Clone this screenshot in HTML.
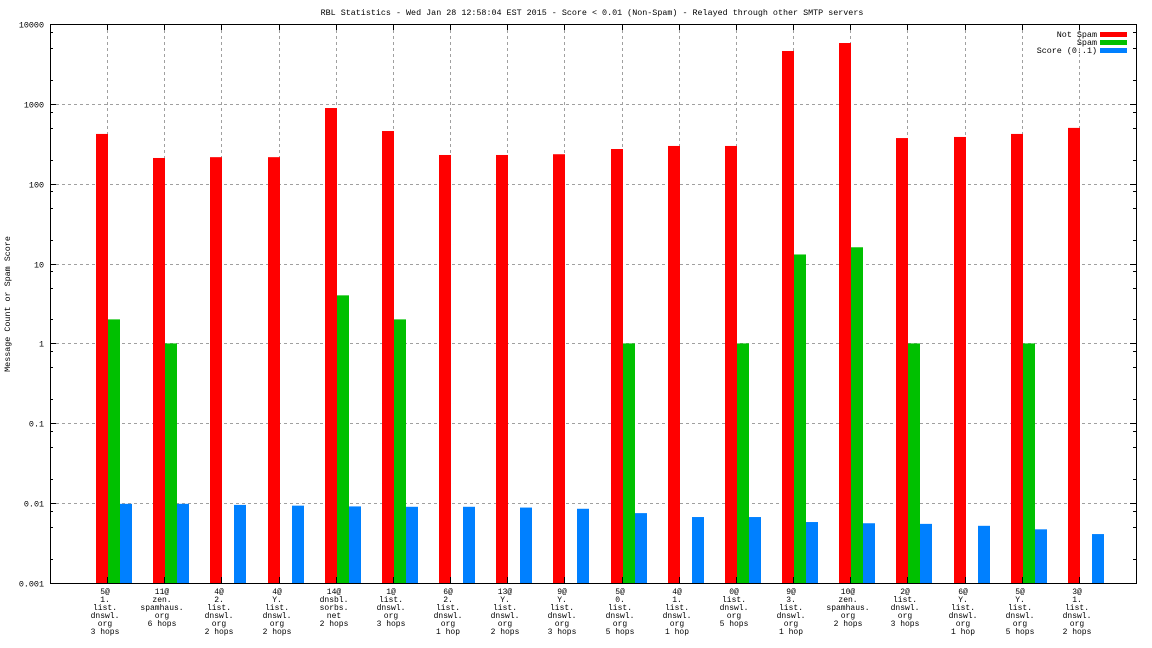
<!DOCTYPE html>
<html><head><meta charset="utf-8"><style>
html,body{margin:0;padding:0;background:#fff;}
svg{display:block;font-family:"Liberation Mono","DejaVu Sans Mono",monospace;}
</style></head><body>
<svg id="chart" width="1152" height="648" viewBox="0 0 1152 648" xmlns="http://www.w3.org/2000/svg">
<text x="592" y="15" font-size="8.4" text-anchor="middle">RBL Statistics - Wed Jan 28 12:58:04 EST 2015 - Score &lt; 0.01 (Non-Spam) - Relayed through other SMTP servers</text>
<text transform="translate(10,304) rotate(-90)" font-size="8.4" text-anchor="middle">Message Count or Spam Score</text>
<g id="grid"></g><g id="bars"></g><g id="axes"></g><g id="labels"></g>
<g>
<text x="1097" y="37" font-size="8.4" text-anchor="end">Not Spam</text>
<rect x="1100" y="32" width="27" height="5" fill="#ff0000"/>
<text x="1097" y="45" font-size="8.4" text-anchor="end">Spam</text>
<rect x="1100" y="40" width="27" height="5" fill="#00c000"/>
<text x="1097" y="53" font-size="8.4" text-anchor="end">Score (0..1)</text>
<rect x="1100" y="48" width="27" height="5" fill="#0080ff"/>
</g>
</svg>
<script>
const categories = [
 ["5@","1.","list.","dnswl.","org","3 hops"],
 ["11@","zen.","spamhaus.","org","6 hops"],
 ["4@","2.","list.","dnswl.","org","2 hops"],
 ["4@","Y.","list.","dnswl.","org","2 hops"],
 ["14@","dnsbl.","sorbs.","net","2 hops"],
 ["1@","list.","dnswl.","org","3 hops"],
 ["6@","2.","list.","dnswl.","org","1 hop"],
 ["13@","Y.","list.","dnswl.","org","2 hops"],
 ["9@","Y.","list.","dnswl.","org","3 hops"],
 ["5@","0.","list.","dnswl.","org","5 hops"],
 ["4@","1.","list.","dnswl.","org","1 hop"],
 ["0@","list.","dnswl.","org","5 hops"],
 ["9@","3.","list.","dnswl.","org","1 hop"],
 ["10@","zen.","spamhaus.","org","2 hops"],
 ["2@","list.","dnswl.","org","3 hops"],
 ["6@","Y.","list.","dnswl.","org","1 hop"],
 ["5@","Y.","list.","dnswl.","org","5 hops"],
 ["3@","1.","list.","dnswl.","org","2 hops"]
];
const notSpam = [420,210,215,215,887,457,229,229,234,272,297,297,4590,5780,373,385,420,500];
const spam = [2,1,0,0,4,2,0,0,0,1,0,1,13,16,1,0,1,0];
const score = [0.0098,0.0098,0.0095,0.0093,0.0091,0.009,0.009,0.0088,0.0085,0.0075,0.0067,0.0067,0.0058,0.0056,0.0055,0.0052,0.0047,0.0041];
const yTicks = [10000,1000,100,10,1,0.1,0.01,0.001];
const yTickLabels = ["10000","1000","100","10","1","0.1","0.01","0.001"];

const NS="http://www.w3.org/2000/svg";
const L=50,R=1136,T=24,B=583;
const step=(R-L)/(categories.length+1);
const bw=12;
function y(v){return T+(4-Math.log10(v))*(B-T)/7;}
function x(i){return L+step*(i+1);}
function mk(parent,tag,attrs){const e=document.createElementNS(NS,tag);for(const k in attrs)e.setAttribute(k,attrs[k]);document.getElementById(parent).appendChild(e);return e;}

yTicks.forEach((v,i)=>{
 const yy=Math.round(y(v))+0.5;
 if(i>0&&i<yTicks.length-1){const g=mk('grid','line',{x1:L,x2:R,y1:yy,y2:yy,stroke:'#a0a0a0','stroke-dasharray':'3,3'});
 
 }
 const t=mk('labels','text',{x:44,y:yy+3,'font-size':8.4,'text-anchor':'end'});t.textContent=yTickLabels[i];
 
 
 mk('axes','line',{x1:L,x2:L+6,y1:yy,y2:yy,stroke:'#000'});
 mk('axes','line',{x1:R-6,x2:R,y1:yy,y2:yy,stroke:'#000'});
 if(i<yTicks.length-1){[2,5,8].forEach(m=>{const my=Math.round(y(v/10*m))+0.5;
  mk('axes','line',{x1:L,x2:L+3,y1:my,y2:my,stroke:'#000'});
  mk('axes','line',{x1:R-3,x2:R,y1:my,y2:my,stroke:'#000'});});}
});
categories.forEach((c,i)=>{
 const cx=Math.round(x(i))+0.5;
 const g=mk('grid','line',{x1:cx,x2:cx,y1:T,y2:B,stroke:'#a0a0a0','stroke-dasharray':'3,3'});
 
 
 mk('axes','line',{x1:cx,x2:cx,y1:T,y2:T+6,stroke:'#000'});
 mk('axes','line',{x1:cx,x2:cx,y1:B-6,y2:B,stroke:'#000'});
 const xc=Math.round(x(i));
 const series=[[notSpam[i],'#ff0000',xc-11,'bar-not-spam'],[spam[i],'#00c000',xc+1,'bar-spam'],[score[i],'#0080ff',xc+13,'bar-score']];
 series.forEach(s=>{ if(s[0]>0){const yt=y(s[0]);
  const r=mk('bars','rect',{x:s[2],y:yt,width:bw,height:B-yt,fill:s[1]});
  
  }});
 c.forEach((ln,k)=>{const t=mk('labels','text',{x:xc-2,y:594+k*8,'font-size':8,'text-anchor':'middle'});t.textContent=ln;
  
  });
});
const fr=mk('axes','rect',{x:L+0.5,y:T+0.5,width:R-L,height:B-T,fill:'none',stroke:'#000'});


</script>
</body></html>
